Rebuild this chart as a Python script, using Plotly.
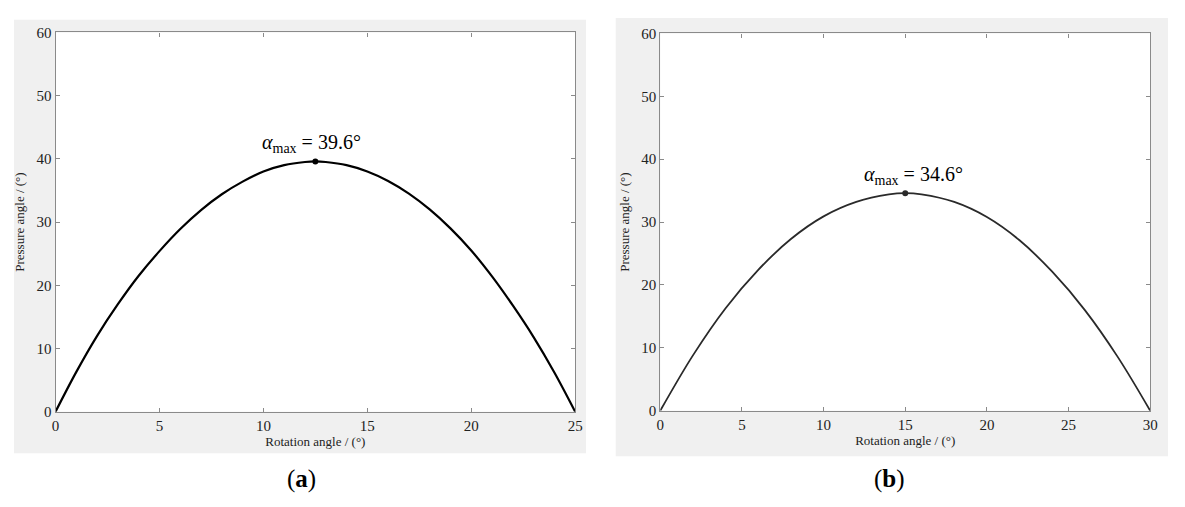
import plotly.graph_objects as go

# panel (a): cam with 25 deg rise
rot_a = [0, 1, 2, 3, 4, 5, 6, 7, 8, 9, 10, 11, 12, 12.5, 13, 14, 15, 16, 17, 18, 19, 20, 21, 22, 23, 24, 25]
pa_a = [0, 6.3, 12.0, 17.0, 21.5, 25.4, 28.9, 31.9, 34.4, 36.4, 38.0, 39.0, 39.5, 39.6,
        39.5, 39.0, 38.0, 36.5, 34.5, 32.0, 29.0, 25.5, 21.4, 16.8, 11.8, 6.2, 0]
peak_a = (12.5, 39.6)

# panel (b): cam with 30 deg rise
rot_b = [0, 2, 4, 6, 8, 10, 12, 14, 15, 16, 18, 20, 22, 24, 26, 28, 30]
pa_b = [0, 8.8, 16.3, 22.4, 27.3, 30.9, 33.2, 34.4, 34.6, 34.4, 33.2, 30.8, 27.1, 22.1, 16.0, 8.6, 0]
peak_b = (15, 34.6)

xticks_a = [0, 5, 10, 15, 20, 25]
xticks_b = [0, 5, 10, 15, 20, 25, 30]
yticks = [0, 10, 20, 30, 40, 50, 60]

# page body has an 8px margin, so the figure is a bit smaller than the window
OFF = 8
W, H = 1185 - 2 * OFF, 507 - 2 * OFF
FONT = "Liberation Serif"
BOX = "#8a8a8a"

def px(x):
    return (x - OFF) / W

def py(y):
    return 1 - (y - OFF) / H

fig = go.Figure()

fig.add_trace(go.Scatter(x=rot_a, y=pa_a, mode="lines", line=dict(color="black", width=2.2, shape="spline"),
                         xaxis="x", yaxis="y", showlegend=False))
fig.add_trace(go.Scatter(x=[peak_a[0]], y=[peak_a[1]], mode="markers", marker=dict(color="black", size=6),
                         xaxis="x", yaxis="y", showlegend=False))
fig.add_trace(go.Scatter(x=rot_b, y=pa_b, mode="lines", line=dict(color="#2a2a2a", width=1.8, shape="spline"),
                         xaxis="x2", yaxis="y2", showlegend=False))
fig.add_trace(go.Scatter(x=[peak_b[0]], y=[peak_b[1]], mode="markers", marker=dict(color="#2a2a2a", size=6),
                         xaxis="x2", yaxis="y2", showlegend=False))

axis_common = dict(showline=True, linecolor=BOX, linewidth=1.3, mirror="ticks", ticks="inside",
                   ticklen=4, tickcolor=BOX, showgrid=False, zeroline=False,
                   tickfont=dict(family=FONT, size=15, color="#222"))
title_font = dict(family=FONT, size=13, color="#222")

fig.update_layout(
    width=W, height=H,
    margin=dict(l=0, r=0, t=0, b=0),
    paper_bgcolor="white",
    plot_bgcolor="white",
    xaxis=dict(domain=[px(52), px(577)], range=[0, 25], tickvals=xticks_a, anchor="y",
               title=dict(text="Rotation angle / (°)", font=title_font, standoff=2), **axis_common),
    yaxis=dict(domain=[py(417), py(25)], range=[0, 60], tickvals=yticks, anchor="x",
               title=dict(text="Pressure angle / (°)", font=title_font, standoff=8), **axis_common),
    xaxis2=dict(domain=[px(663), px(1158)], range=[0, 30], tickvals=xticks_b, anchor="y2",
                title=dict(text="Rotation angle / (°)", font=title_font, standoff=2), **axis_common),
    yaxis2=dict(domain=[py(416), py(26)], range=[0, 60], tickvals=yticks, anchor="x2",
                title=dict(text="Pressure angle / (°)", font=title_font, standoff=8), **axis_common),
)

# gray figure backgrounds behind each panel, white plot areas on top of them
fig.add_shape(type="rect", xref="paper", yref="paper", x0=px(10), x1=px(588), y0=py(460), y1=py(12),
              fillcolor="#f0f0f0", line_width=0, layer="below")
fig.add_shape(type="rect", xref="paper", yref="paper", x0=px(618), x1=px(1176), y0=py(463), y1=py(10),
              fillcolor="#f0f0f0", line_width=0, layer="below")
fig.add_shape(type="rect", xref="x domain", yref="y domain", x0=0, x1=1, y0=0, y1=1,
              fillcolor="white", line_width=0, layer="below")
fig.add_shape(type="rect", xref="x2 domain", yref="y2 domain", x0=0, x1=1, y0=0, y1=1,
              fillcolor="white", line_width=0, layer="below")

ann_font = dict(family=FONT, size=20, color="black")
fig.add_annotation(x=peak_a[0], y=peak_a[1], xref="x", yref="y",
                   text="<i>α</i><sub>max</sub> = 39.6°", showarrow=False,
                   xanchor="center", yanchor="bottom", xshift=-4, yshift=3, font=ann_font)
fig.add_annotation(x=peak_b[0], y=peak_b[1], xref="x2", yref="y2",
                   text="<i>α</i><sub>max</sub> = 34.6°", showarrow=False,
                   xanchor="center", yanchor="bottom", xshift=8, yshift=3, font=ann_font)

lab_font = dict(family=FONT, size=25, color="black")
fig.add_annotation(x=px(300), y=py(487), xref="paper", yref="paper", text="(<b>a</b>)",
                   xanchor="center", yanchor="middle", showarrow=False, font=lab_font)
fig.add_annotation(x=px(895), y=py(487), xref="paper", yref="paper", text="(<b>b</b>)",
                   xanchor="center", yanchor="middle", showarrow=False, font=lab_font)

fig.write_html("out.html")
